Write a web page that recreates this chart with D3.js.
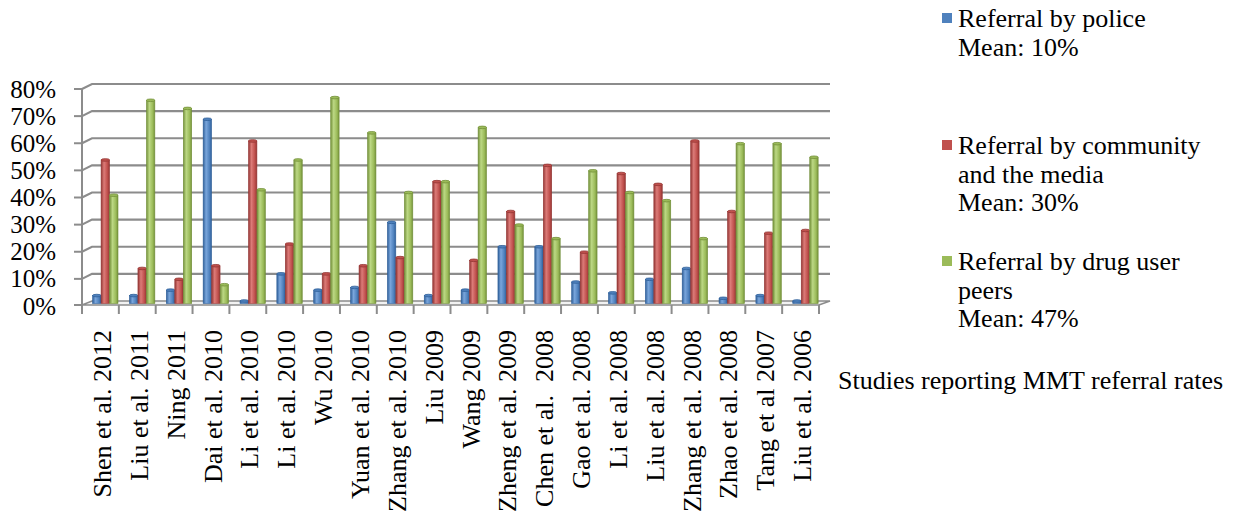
<!DOCTYPE html>
<html><head><meta charset="utf-8">
<script src="https://cdn.jsdelivr.net/npm/d3@7"></script>
<style>
html,body{margin:0;padding:0;background:#fff;}
svg{display:block;font-family:"Liberation Serif","Times New Roman",serif;}
</style></head>
<body>
<svg id="chart" width="1237" height="517"></svg>
<script>
const categories = ["Shen et al. 2012","Liu et al. 2011","Ning 2011","Dai et al. 2010","Li et al. 2010","Li et al. 2010","Wu 2010","Yuan et al. 2010","Zhang et al. 2010","Liu 2009","Wang 2009","Zheng et al. 2009","Chen et al.  2008","Gao et al. 2008","Li et al. 2008","Liu et al. 2008","Zhang et al. 2008","Zhao et al. 2008","Tang et al 2007","Liu et al. 2006"];
const police    = [2,2,4,67,0,10,4,5,29,2,4,20,20,7,3,8,12,1,2,0];
const community = [52,12,8,13,59,21,10,13,16,44,15,33,50,18,47,43,59,33,25,26];
const peers     = [39,74,71,6,41,52,75,62,40,44,64,28,23,48,40,37,23,58,58,53];
const seriesNames = [["Referral by police","Mean: 10%"],["Referral by community","and the media","Mean: 30%"],["Referral by drug user","peers","Mean: 47%"]];
const yTicks = [0,10,20,30,40,50,60,70,80];
const yTickLabels = ["0%","10%","20%","30%","40%","50%","60%","70%","80%"];
const axisTitle = "Studies reporting MMT referral rates";

const series = [police, community, peers];
const colors = ["#4f81bd","#c0504d","#9bbb59"];
const dark = ["#2f5f99","#943634","#73903a"];
const light = ["#7aa6dc","#dc7b78","#bcd884"];

const svg = d3.select("#chart");
const defs = svg.append("defs");
colors.forEach((c,i)=>{
  const g = defs.append("linearGradient").attr("id","g"+i).attr("x1","0").attr("x2","1").attr("y1","0").attr("y2","0");
  g.append("stop").attr("offset","0").attr("stop-color",dark[i]);
  g.append("stop").attr("offset","0.35").attr("stop-color",light[i]);
  g.append("stop").attr("offset","0.75").attr("stop-color",c);
  g.append("stop").attr("offset","1").attr("stop-color",dark[i]);
});

const DX = 10, DY = 4;           // 3D depth offset
const x = d3.scaleBand().domain(d3.range(categories.length)).range([82, 819]).paddingInner(0).paddingOuter(0);
const y = d3.scaleLinear().domain([0,80]).range([301, 84]);    // back wall
const yLab = d3.scaleLinear().domain([0,80]).range([306, 89.5]);

// floor
const floorBack = y(0), floorFront = y(0)+DY;
svg.append("polygon")
  .attr("points", [[x.range()[0],floorFront],[x.range()[1],floorFront],[x.range()[1]+DX+1,floorBack],[x.range()[0]+DX,floorBack]].map(p=>p.join(",")).join(" "))
  .attr("fill","#f2f2f2").attr("stroke","#8c8c8c").attr("stroke-width",1.5);

// gridlines (back wall + side wall slant)
const grid = svg.append("g");
yTicks.forEach(t=>{
  if(t===0) return;
  grid.append("path")
    .attr("d", `M${x.range()[0]},${y(t)+DY+1}L${x.range()[0]+DX},${y(t)}L${x.range()[1]+DX+1},${y(t)}`)
    .attr("fill","none").attr("stroke","#8c8c8c").attr("stroke-width",2.2);
});
// left axis line + ticks
grid.append("line").attr("x1",x.range()[0]).attr("x2",x.range()[0]).attr("y1",y(80)+DY+1).attr("y2",floorFront+0.5)
  .attr("stroke","#8c8c8c").attr("stroke-width",2);
yTicks.forEach(t=>{
  grid.append("line").attr("x1",x.range()[0]-8).attr("x2",x.range()[0]).attr("y1",(t===0?floorFront:y(t)+DY+1)).attr("y2",(t===0?floorFront:y(t)+DY+1))
    .attr("stroke","#8c8c8c").attr("stroke-width",2);
});
// x ticks
d3.range(categories.length+1).forEach(i=>{
  const xx = x.range()[0] + i*x.bandwidth();
  grid.append("line").attr("x1",xx).attr("x2",xx).attr("y1",floorFront).attr("y2",floorFront+9)
    .attr("stroke","#8c8c8c").attr("stroke-width",2);
});

// bars
const bw = 8.4, step = 8.5, off = 10.6;
const barBase = floorBack + 2.5;
series.forEach((vals,s)=>{
  const g = svg.append("g");
  g.selectAll("rect").data(vals).join("rect")
    .attr("x",(d,i)=>x(i)+off+s*step)
    .attr("y",d=>y(d))
    .attr("width",bw)
    .attr("height",d=>Math.max(0,barBase-y(d)))
    .attr("fill",`url(#g${s})`)
    .attr("stroke",dark[s]).attr("stroke-width",0.6);
  g.selectAll("ellipse").data(vals).join("ellipse")
    .attr("cx",(d,i)=>x(i)+off+s*step+bw/2)
    .attr("cy",d=>y(d))
    .attr("rx",bw/2).attr("ry",1.3)
    .attr("fill",colors[s]).attr("stroke",dark[s]).attr("stroke-width",0.8);
});

// y labels
svg.append("g").selectAll("text").data(yTicks).join("text")
  .attr("x",56).attr("y",d=>yLab(d)+8.5)
  .attr("text-anchor","end").attr("font-size",25).attr("fill","#000")
  .text((d,i)=>yTickLabels[i]);

// category labels
svg.append("g").selectAll("text").data(categories).join("text")
  .attr("transform",(d,i)=>`translate(${x(i)+x.bandwidth()/2+2},330) rotate(-90)`)
  .attr("text-anchor","end").attr("dy","0.33em")
  .attr("font-size",26).attr("fill","#000")
  .attr("xml:space","preserve")
  .text(d=>d);

// axis title
svg.append("text").attr("x",838).attr("y",389).attr("font-size",26).attr("fill","#000").text(axisTitle);

// legend
const legendTop = [18,145,261];
seriesNames.forEach((lines,s)=>{
  svg.append("rect").attr("x",942).attr("y",legendTop[s]-5).attr("width",10).attr("height",10).attr("fill",colors[s]);
  lines.forEach((t,j)=>{
    svg.append("text").attr("x",958).attr("y",legendTop[s]+9+j*28.5).attr("font-size",26).attr("fill","#000").text(t);
  });
});
</script>
</body></html>
